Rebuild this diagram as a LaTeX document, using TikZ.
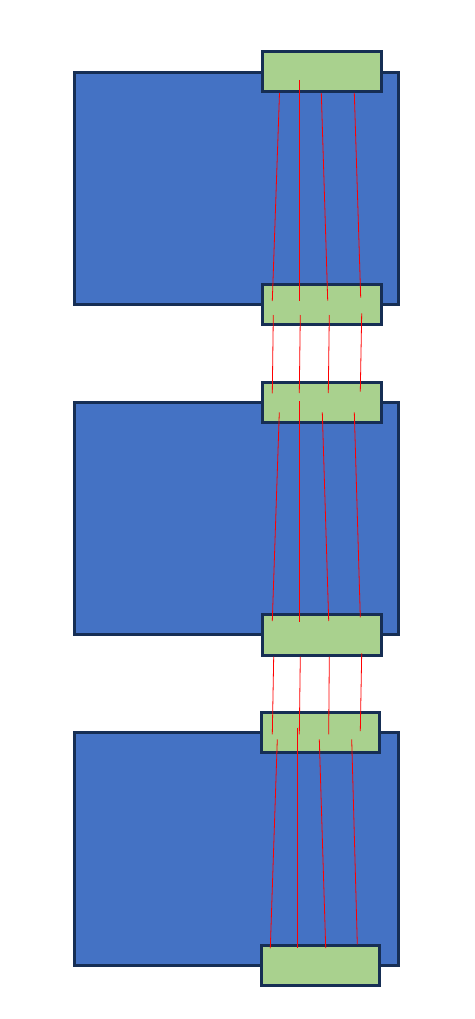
\documentclass[tikz,border=0pt]{standalone}
\usepackage{tikz}
\definecolor{boxblue}{RGB}{68,114,196}
\definecolor{boxgreen}{RGB}{169,209,142}
\definecolor{navy}{RGB}{22,46,84}
\tikzset{
  block/.style={draw=navy, line width=3pt, inner sep=0pt, outer sep=0pt, anchor=north west},
  bluebox/.style={block, fill=boxblue},
  greenbox/.style={block, fill=boxgreen},
  wire/.style={draw=red, line width=0.8pt}
}
\begin{document}
\begin{tikzpicture}[x=1pt,y=-1pt]
\useasboundingbox (0,0) rectangle (474,1019);
% blue boxes
\node[bluebox, minimum width=324.2pt, minimum height=231.7pt] (b1) at (74.3,72.5) {};
\node[bluebox, minimum width=324.2pt, minimum height=231.7pt] (b2) at (74.3,402.5) {};
\node[bluebox, minimum width=324.2pt, minimum height=232.5pt] (b3) at (74.3,732.5) {};
% green boxes
\node[greenbox, minimum width=118.5pt, minimum height=40pt] (g1) at (262.5,51.5) {};
\node[greenbox, minimum width=118.5pt, minimum height=39.4pt] (g2) at (262.5,284.8) {};
\node[greenbox, minimum width=118.5pt, minimum height=40pt] (g3) at (262.5,382.5) {};
\node[greenbox, minimum width=118.5pt, minimum height=40.4pt] (g4) at (262.5,614.8) {};
\node[greenbox, minimum width=118pt, minimum height=40pt] (g5) at (261.5,712.5) {};
\node[greenbox, minimum width=118pt, minimum height=40pt] (g6) at (261.5,945.5) {};
% red wires
\foreach \i/\xa/\ya/\xb/\yb in {
  1/279.5/93/272.3/301, 2/299.3/80/299.3/300.7, 3/321.3/93/327.7/300.7, 4/354.3/93/360.7/297.7,
  5/273.3/315/272.3/393.3, 6/300.3/315/299.3/393, 7/329.3/315/328.3/393, 8/361.7/313.3/360.3/391.7,
  9/279.3/412.3/272.3/621, 10/299.3/401/299.3/621.7, 11/322.3/412.3/328.7/621, 12/354.3/412.3/360.3/617.3,
  13/273.7/656.7/272.3/734.3, 14/300.3/656.7/299.3/734.3, 15/329.3/656.7/328.7/734.3, 16/361.7/653.3/360.3/731,
  17/277.3/739.3/270.3/948.3, 18/297.3/727.7/297.3/947.7, 19/319.3/739.3/325.7/948, 20/351.7/739.3/357.3/944.3}
{
  \coordinate (s\i) at (\xa,\ya);
  \coordinate (e\i) at (\xb,\yb);
  \draw[wire] (s\i) -- (e\i);
}
\end{tikzpicture}
\end{document}
